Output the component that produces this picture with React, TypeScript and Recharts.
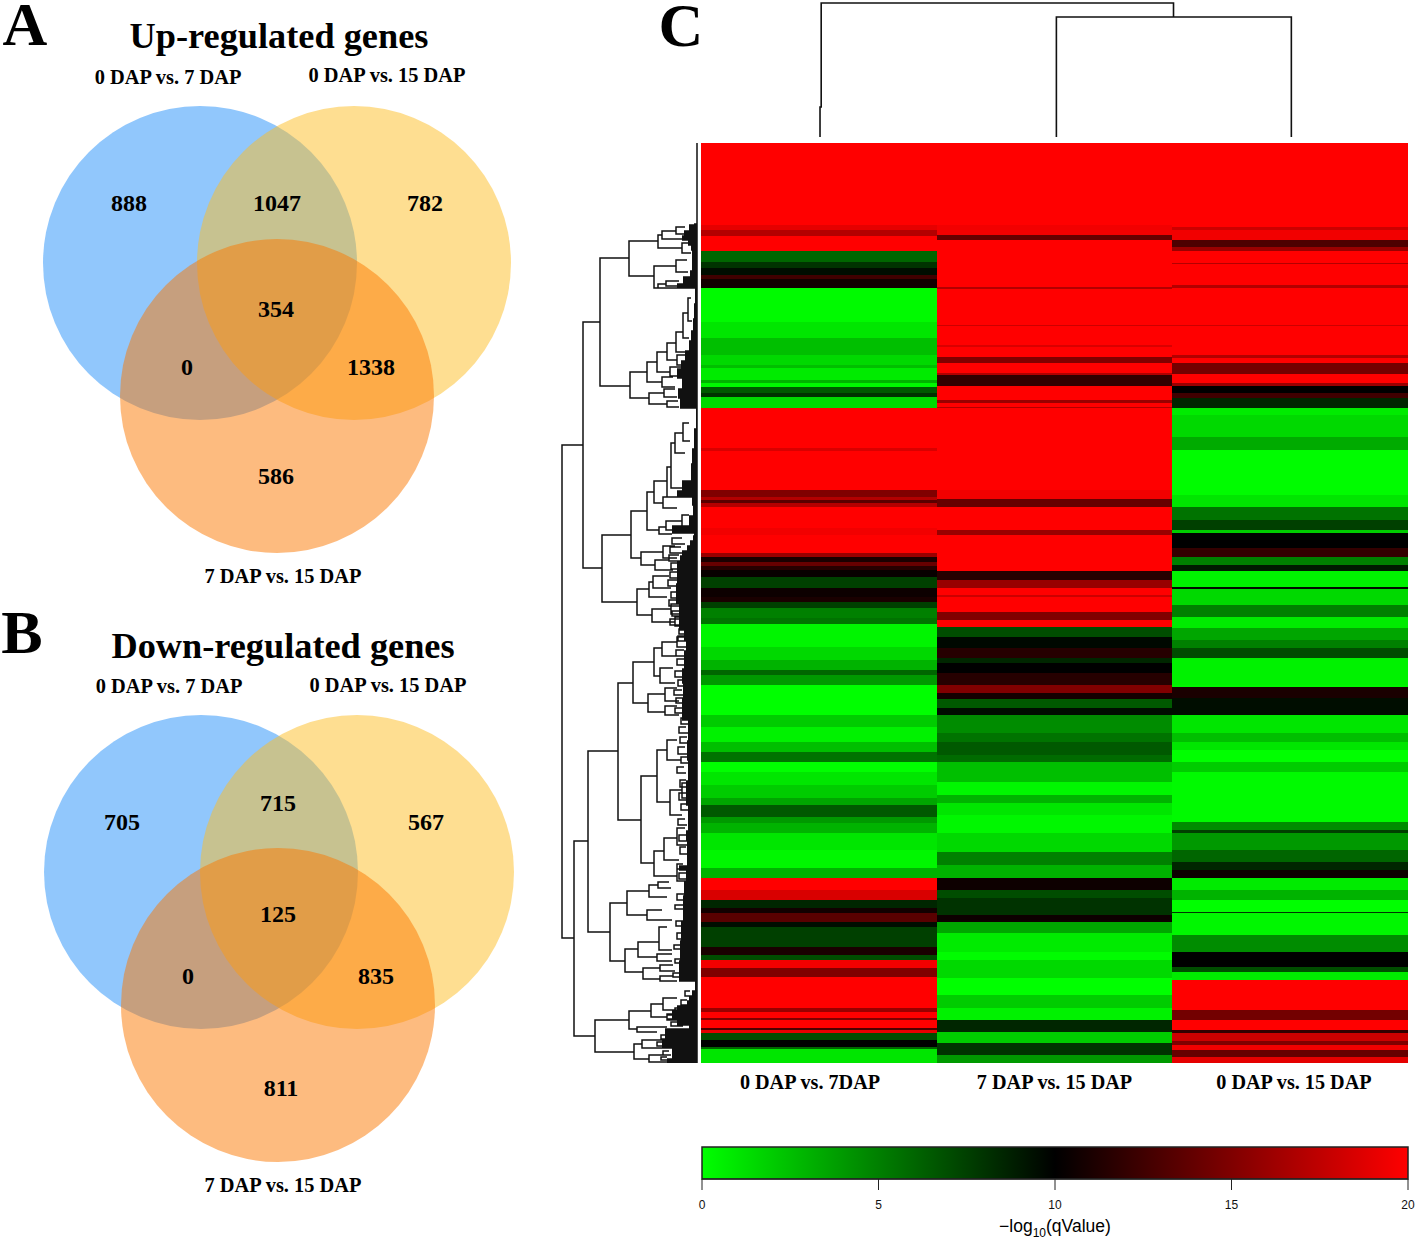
import React from 'react';
import { Bar, BarChart, Line, LineChart, Scatter, ScatterChart, XAxis, YAxis } from 'recharts';

// ---------- data ----------
const comparisons = ['0 DAP vs. 7DAP', '7 DAP vs. 15 DAP', '0 DAP vs. 15 DAP'];

// Heatmap columns: [number of gene rows, -log10(qValue)]
const col0v7: number[][] = [
  [82,20],[5,19],[6,17],[15,20],[11,6],[6,8],[7,9.5],[4,12.5],[9,10.7],[34,0.2],[16,1],[17,2.5],[10,1.5],[3,2.5],[12,0.8],[3,3],[4,0.3],[6,6.5],[4,8],[11,1.5],
  [40,20],[3,18.5],[39,20],[7,15],[3,17],[3,13.5],[4,17],[21,20],[7,19.5],[18,20],[4,16],[5,11],[4,14],[4,11.5],[7,10.3],[11,7.5],[9,10.5],[5,11],[6,7.5],[10,5],[6,5.5],
  [23,0.4],[13,1.5],[10,3],[5,6],[10,4],[30,0],[12,2],[15,0.5],[10,2.5],[10,5.5],
  [10,0],[13,1],[13,2],[7,3.5],[12,6.5],[6,4],[10,3],[17,1],[18,0.3],[10,3],[12,20],[10,18.5],[8,8.5],[5,10.7],[9,13.5],[5,9.5],[20,7.5],[8,11],[5,7],[8,19.5],[9,15],
  [31,20],[4,16],[6,20],[2,15],[8,20],[2,13],[3,19],[7,7],[7,10],[2,6],[14,1],
];
const col7v15: number[][] = [
  [82,20],[10,19.5],[5,14],[47,20],[2,17],[36,20],[1,18],[19,20],[2,18.5],[10,20],[6,15],[10,20],[2,17],[11,12],[14,20],[3,16],[4,20],[1,17],
  [82,20],[9,19.5],[8,14],[23,20],[5,16],[36,20],[9,11.5],[8,16],[7,20],[2,18],[15,20],[8,15],[7,20],[10,7],[11,9.7],[10,11.5],[5,8.5],[10,10],[12,11.5],[8,15],[6,10.8],[9,6.5],[7,9.5],[18,4.5],[9,5.5],[13,6.5],[7,5.8],
  [20,2.5],[13,0.3],[8,3],[12,1],[18,0.3],[19,1.5],[13,5],[13,3],[12,10.5],[8,7],[17,8],[7,10.5],[11,3.5],[19,0.8],[8,0.1],[18,1.5],[17,0],[13,2],[12,0.5],[12,8.5],[11,2],[12,8],[8,4],
];
const col0v15: number[][] = [
  [84,20],[3,18],[10,19.5],[7,13],[4,16],[12,20],[1,17],[21,20],[3,17],[37,20],[1,18],[29,20],[3,17],[5,20],[11,14.5],[9,20],[3,16],[7,10],[5,12.5],[10,8.5],
  [7,0.8],[22,1.5],[13,3.3],[45,0.1],[12,1],[13,5.5],[10,7.5],[3,2],[15,10],[9,12],[8,5],[6,9],[16,0.5],[2,9.5],[16,1.5],[12,5],[11,0.8],[12,3.5],[8,5],[10,7],[27,0.5],[2,0.3],[11,11],[17,9.5],[18,1],[9,2.5],[8,1],[12,0],
  [10,2],[50,0.2],[8,4.5],[3,7.5],[17,4],[12,6],[8,8.5],[8,10.5],[12,0.8],[10,3],[12,0],[1,8],[22,0.3],[17,4.5],[15,10],[5,7],[8,0.8],[30,20],[10,14.5],[10,20],[3,12],[8,18],[4,15],[5,19.5],[7,14],[6,19],
];

// Row dendrogram merges: [height, top rank, bottom rank, top child height, bottom child height]
const rowMerges: number[][] = [
  [135,302,795,114,123],[114,179,425,97,95],[97,115,243,68,67],[68,98,133,39,43],[39,92,105,35,15],[35,88,96,21,14],[21,84,91,12,8],[15,100,110,8,6],
  [43,123,145,21,39],[21,117,129,10,9],[39,141,145,31,12],[31,138,143,18,10],[67,229,255,50,48],[50,219,239,40,35],[40,209,229,30,27],[30,200,217,21,20],
  [21,189,209,14,12],[14,170,195,9,8],[9,155,178,6,5],[20,212,222,12,10],[27,224,233,16,14],[35,234,244,24,22],[48,250,261,33,30],[33,246,254,22,20],[30,258,264,19,18],
  [95,392,459,66,60],[66,368,415,50,56],[50,349,387,43,38],[43,338,360,30,34],[30,324,354,26,20],[26,300,345,22,14],[22,290,310,14,12],[14,280,298,8,7],[34,354,365,25,20],
  [38,384,391,31,25],[31,378,387,15,15],[15,372,383,8,8],[56,409,422,34,42],[34,403,415,22,20],[42,417,427,28,24],[60,446,472,48,45],[48,439,454,44,30],[44,433,445,28,26],[45,466,479,26,22],[26,461,471,16,16],[22,474,483,14,14],
  [123,698,893,109,102],[109,608,789,79,87],[79,540,677,64,56],[64,519,560,43,49],[43,505,533,35,37],[35,499,513,20,20],[20,494,504,12,10],[37,525,540,24,22],[49,551,569,32,32],[32,545,558,20,18],[32,563,572,20,18],
  [56,633,720,40,43],[40,607,659,30,27],[30,597,617,20,16],[27,647,672,15,15],[15,640,655,8,8],[43,708,733,33,20],[33,695,717,20,18],[20,685,702,12,10],[20,726,738,12,10],
  [87,760,818,70,72],[70,748,772,48,50],[48,742,754,39,30],[39,739,745,28,26],[50,767,777,35,25],[72,806,829,59,54],[59,799,814,38,40],[38,784,807,30,25],[54,825,836,37,37],[40,811,818,25,25],[37,822,828,24,22],[37,833,838,24,20],
  [102,877,909,68,63],[68,868,886,46,60],[46,861,874,34,30],[34,855,867,20,15],[30,871,877,18,16],[60,884,889,30,40],[63,901,916,55,48],[55,897,905,30,30],[48,912,919,30,30],
];
// Small clades near the leaves, read along the dendrogram's fringe
const leafClades: number[][] = [
  [25,395,401,15,12],[27,404,410,16,14],[28,412,418,18,15],[26,420,426,16,14],[27,429,435,17,15],[29,437,443,20,16],[26,449,455,18,15],[28,457,463,19,16],[25,468,473,17,16],[27,476,482,18,16],
  [18,486,491,11,9],[19,493,498,12,10],[21,507,513,13,11],[20,516,522,12,10],[22,528,534,14,12],[19,537,543,12,11],[23,547,552,15,13],[21,555,560,14,12],[22,565,570,15,12],
  [16,575,581,10,8],[18,584,590,11,9],[17,594,600,10,9],[19,604,611,12,10],[16,614,620,10,8],[20,624,630,13,11],[17,637,644,11,9],[18,650,657,11,10],[16,661,667,10,8],[19,676,682,12,10],[18,692,698,11,10],[17,704,711,11,9],[20,721,726,14,12],[18,730,736,11,10],
  [20,751,757,13,11],[22,762,766,14,12],[21,778,783,14,12],[20,790,796,13,11],[23,802,806,15,13],[22,816,820,15,13],[24,830,834,16,13],
  [12,848,853,7,6],[16,857,862,10,8],[22,865,870,16,14],[30,872,876,24,20],[26,879,883,18,14],[36,892,896,30,28],[40,899,903,33,30],[34,908,912,28,26],[36,914,917,30,28],
];
// Dense leaf fringe: [last rank of the band, leaf length]
const leafFringe: number[][] = [
  [81,3],[87,8],[92,13],[97,15],[102,9],[107,6],[119,5],[127,5],[133,7],[140,14],[145,20],[160,2],[175,3],[187,4],[197,6],[207,8],[217,12],[225,16],[235,20],[245,15],[255,19],[265,17],
  [285,1],[305,3],[320,5],[337,6],[347,15],[354,20],[362,5],[372,4],[382,8],[390,25],[392,3],[397,4],[402,7],[407,10],[412,15],[417,17],[440,20],[460,21],[487,18],[497,13],
  [507,11],[525,13],[540,15],[555,14],[577,15],[597,9],[617,10],[637,9],[662,11],[687,9],[697,11],[722,10],[727,18],[737,11],[752,13],[777,14],[797,16],[817,17],[838,18],
  [847,2],[852,5],[857,8],[862,10],[867,20],[875,25],[882,20],[885,8],[897,32],[905,35],[915,25],[920,30],
];
// Column dendrogram: [column position, height], null marks a break
const colLinks: (number | null)[][] = [
  [0.505,6],[0.505,36],[0.51,36],[0.51,140],[2.005,140],[2.005,126],[2.005,null],[1.508,6],[1.508,126],[2.505,126],[2.505,6],
];

const upCounts = ['888','1047','782','354','0','1338','586'];
const downCounts = ['705','715','567','125','0','835','811'];
const setNames = ['0 DAP vs. 7 DAP','0 DAP vs. 15 DAP','7 DAP vs. 15 DAP'];
const legendTicks = [0,5,10,15,20];

// ---------- table building ----------
const expand = (bands: number[][]) => bands.flatMap(([n, v]) => Array(n).fill(v));
const c0 = expand(col0v7), c1 = expand(col7v15), c2 = expand(col0v15);
const heatRows = c0.map((v, i) => ({ rank: i, q0: v, q1: c1[i] ?? v, q2: c2[i] ?? v, a: 1, b: 1, c: 1 }));

const rowDendro: { h: number; r: number | null }[] = [];
const pushBreak = (h: number) => rowDendro.push({ h, r: null });
rowDendro.push({ h: 0, r: 0 }, { h: 0, r: 920 }); pushBreak(0);
[...rowMerges, ...leafClades].forEach(([h, t, b, ht, hb]) => {
  rowDendro.push({ h: ht, r: t }, { h, r: t }, { h, r: b }, { h: hb, r: b }); pushBreak(0);
});
let start = 81;
leafFringe.forEach(([end, len]) => {
  for (let r = start; r <= end; r += 1) { rowDendro.push({ h: 0, r }, { h: len, r }); pushBreak(0); }
  start = end + 1;
});
const colDendro = colLinks.map(([x, h]) => ({ x, h }));

const qColor = (v: number) => {
  const t = Math.max(0, Math.min(20, v)) / 10;
  return t <= 1 ? `rgb(0,${Math.round(255 * (1 - t))},0)` : `rgb(${Math.round(255 * (t - 1))},0,0)`;
};

// ---------- layout ----------
const SERIF = '"Liberation Serif", serif';
const SANS = '"Liberation Sans", sans-serif';
const VENN_R = 157;
const fills = ['#238ffa', '#fdbe23', '#fb7700'];

const upCircles = [{ x: 200, y: 263 }, { x: 354, y: 263 }, { x: 277, y: 396 }];
const downCircles = [{ x: 201, y: 263 }, { x: 357, y: 263 }, { x: 278, y: 396 }];
const upCountPos = [[129,203],[277,203],[425,203],[276,309],[187,367],[371,367],[276,476]];
const downCountPos = [[122,213],[278,194],[426,213],[278,305],[188,367],[376,367],[281,479]];

function Label({ x, y, size, children, weight = 700, font = SERIF }: any) {
  const halfW = Math.min(x, 300);
  const halfH = Math.min(y, size);
  return (
    <div style={{ position: 'absolute', left: x - halfW, top: y - halfH, width: halfW * 2, height: halfH * 2, lineHeight: `${halfH * 2}px`, textAlign: 'center', fontFamily: font, fontWeight: weight, fontSize: size, color: '#000', whiteSpace: 'nowrap' }}>
      {children}
    </div>
  );
}

function Venn({ top, circles, counts, pos }: any) {
  const labelled = counts.map((text: string, i: number) => ({ x: pos[i][0], y: pos[i][1], text }));
  return (
    <div style={{ position: 'absolute', left: 0, top }}>
      <ScatterChart width={520} height={600} margin={{ top: 0, right: 0, bottom: 0, left: 0 }}>
        <XAxis type="number" dataKey="x" domain={[0, 520]} hide />
        <YAxis type="number" dataKey="y" domain={[0, 600]} reversed hide />
        {circles.map((c: any, i: number) => (
          <Scatter key={i} data={[c]} isAnimationActive={false}
            shape={(p: any) => <circle cx={p.cx} cy={p.cy} r={VENN_R} fill={fills[i]} fillOpacity={0.5} />} />
        ))}
        <Scatter data={labelled} isAnimationActive={false}
          shape={(p: any) => (
            <text x={p.cx} y={p.cy} dy="0.35em" textAnchor="middle" fontFamily={SERIF} fontWeight={700} fontSize={24} fill="#000">
              {p.payload.text}
            </text>
          )} />
      </ScatterChart>
    </div>
  );
}

const cellShape = (key: 'q0' | 'q1' | 'q2') => (p: any) => (
  <rect x={p.x} y={p.y} width={p.width} height={p.height} fill={qColor(p.payload[key])} shapeRendering="crispEdges" />
);

export default function App() {
  return (
    <div style={{ position: 'absolute', left: 0, top: 0, width: 1418, height: 1239, overflow: 'hidden', background: '#fff' }}>
      <Label x={25} y={24} size={62}>A</Label>
      <Label x={22} y={632} size={62}>B</Label>
      <Label x={681} y={25} size={62}>C</Label>
      <Label x={279} y={36} size={36.3}>Up-regulated genes</Label>
      <Label x={283} y={646} size={36.3}>Down-regulated genes</Label>
      <Label x={168} y={77} size={20.4}>{setNames[0]}</Label>
      <Label x={387} y={75} size={20.4}>{setNames[1]}</Label>
      <Label x={283} y={576} size={20.4}>{setNames[2]}</Label>
      <Label x={169} y={686} size={20.4}>{setNames[0]}</Label>
      <Label x={388} y={685} size={20.4}>{setNames[1]}</Label>
      <Label x={283} y={1185} size={20.4}>{setNames[2]}</Label>

      <Venn top={0} circles={upCircles} counts={upCounts} pos={upCountPos} />
      <Venn top={609} circles={downCircles} counts={downCounts} pos={downCountPos} />

      <div style={{ position: 'absolute', left: 701, top: 0 }}>
        <LineChart width={707} height={143} data={colDendro} margin={{ top: 0, right: 0, bottom: 0, left: 0 }}>
          <XAxis type="number" dataKey="x" domain={[0, 3]} hide />
          <YAxis type="number" domain={[0, 143]} hide />
          <Line dataKey="h" stroke="#111" strokeWidth={1.6} dot={false} isAnimationActive={false} />
        </LineChart>
      </div>

      <div style={{ position: 'absolute', left: 555, top: 143 }}>
        <LineChart width={145} height={920} data={rowDendro} margin={{ top: 0, right: 0, bottom: 0, left: 0 }}>
          <XAxis type="number" dataKey="h" domain={[-3, 142]} reversed hide />
          <YAxis type="number" domain={[0, 920]} reversed hide />
          <Line dataKey="r" stroke="#111" strokeWidth={1.5} dot={false} isAnimationActive={false} />
        </LineChart>
      </div>

      <div style={{ position: 'absolute', left: 701, top: 143 }}>
        <BarChart layout="vertical" width={707} height={960} data={heatRows} barCategoryGap={0} barGap={0} margin={{ top: 0, right: 0, bottom: 0, left: 0 }}>
          <XAxis type="number" domain={[0, 3]} ticks={[0.4625, 1.5, 2.516]} height={40} axisLine={false} tickLine={false} interval={0}
            tickFormatter={(_: any, i: number) => comparisons[i]}
            tick={{ fontFamily: SERIF, fontWeight: 700, fontSize: 20.2, fill: '#000' }} tickMargin={6} />
          <YAxis type="category" dataKey="rank" hide />
          <Bar dataKey="a" stackId="s" isAnimationActive={false} shape={cellShape('q0')} />
          <Bar dataKey="b" stackId="s" isAnimationActive={false} shape={cellShape('q1')} />
          <Bar dataKey="c" stackId="s" isAnimationActive={false} shape={cellShape('q2')} />
        </BarChart>
      </div>

      <div style={{ position: 'absolute', left: 690, top: 1140 }}>
        <BarChart layout="vertical" width={728} height={80} data={[{ name: 'q', span: 20 }]} barCategoryGap={0} margin={{ top: 7, right: 10, bottom: 0, left: 12 }}>
          <defs>
            <linearGradient id="qGrad" x1="0" y1="0" x2="1" y2="0">
              <stop offset="0%" stopColor="#00ff00" />
              <stop offset="50%" stopColor="#000000" />
              <stop offset="100%" stopColor="#ff0000" />
            </linearGradient>
          </defs>
          <XAxis type="number" domain={[0, 20]} ticks={legendTicks} height={41} tickSize={11} interval={0} stroke="#222"
            tick={{ fontFamily: SANS, fontSize: 12, fill: '#111' }} tickMargin={10} />
          <YAxis type="category" dataKey="name" hide />
          <Bar dataKey="span" fill="url(#qGrad)" stroke="#222" strokeWidth={1.5} isAnimationActive={false} />
        </BarChart>
      </div>
      <Label x={1055} y={1226} size={17.5} weight={400} font={SANS}>
        <span>−log</span><sub style={{ fontSize: 12 }}>10</sub><span>(qValue)</span>
      </Label>
    </div>
  );
}
